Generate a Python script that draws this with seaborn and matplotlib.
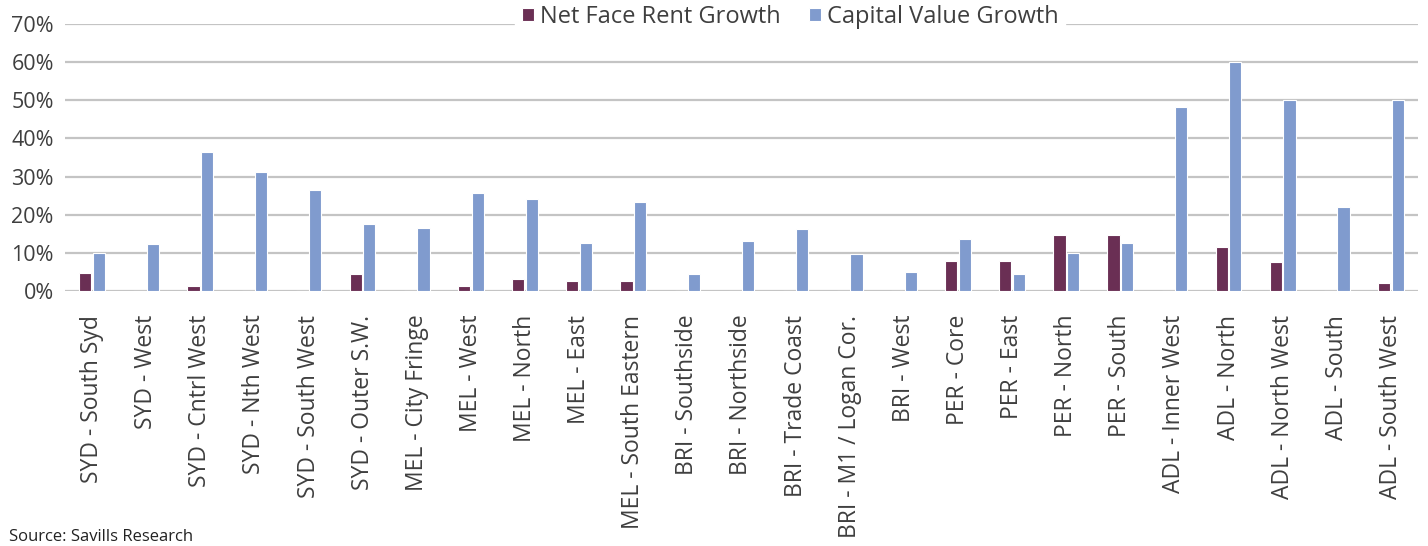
import pandas as pd
import seaborn as sns
import matplotlib.pyplot as plt
from matplotlib.ticker import PercentFormatter

# markets along the x axis
markets = [
    'SYD - South Syd', 'SYD - West', 'SYD - Cntrl West', 'SYD - Nth West',
    'SYD - South West', 'SYD - Outer S.W.', 'MEL - City Fringe', 'MEL - West',
    'MEL - North', 'MEL - East', 'MEL - South Eastern', 'BRI - Southside',
    'BRI - Northside', 'BRI - Trade Coast', 'BRI - M1 / Logan Cor.',
    'BRI - West', 'PER - Core', 'PER - East', 'PER - North', 'PER - South',
    'ADL - Inner West', 'ADL - North', 'ADL - North West', 'ADL - South',
    'ADL - South West',
]

# growth in %
net_face_rent = [4.7, 0.0, 1.4, 0.0, 0.0, 4.5, 0.0, 1.3, 3.1, 2.5, 2.6, 0.0,
                 0.0, 0.0, 0.0, 0.0, 7.8, 7.8, 14.6, 14.6, 0.0, 11.6, 7.5,
                 0.0, 2.2]
capital_value = [9.9, 12.3, 36.5, 31.2, 26.4, 17.7, 16.5, 25.7, 24.0, 12.7,
                 23.4, 4.4, 13.2, 16.2, 9.6, 5.0, 13.7, 4.5, 9.9, 12.6, 48.2,
                 60.0, 50.0, 22.1, 50.0]

series = ['Net Face Rent Growth', 'Capital Value Growth']
colors = ['#6A2F54', '#809BCE']

df = pd.DataFrame({'market': markets,
                   series[0]: net_face_rent,
                   series[1]: capital_value})
long = df.melt(id_vars='market', var_name='series', value_name='growth')

sns.set_style('white')
plt.rcParams['font.family'] = ['Open Sans', 'DejaVu Sans']
text_col = '#3F3F3F'

fig = plt.figure(figsize=(14.28, 5.46), dpi=100)
ax = fig.add_axes([0.0455, 0.467, 0.9475, 0.489])

sns.barplot(data=long, x='market', y='growth', hue='series',
            hue_order=series, palette=colors, width=0.5, gap=0.1,
            edgecolor='white', linewidth=0.8, saturation=1, ax=ax)

ax.set_ylim(0, 70)
ax.set_xlim(-0.5, len(markets) - 0.5)
ax.set_yticks(range(0, 71, 10))
ax.yaxis.set_major_formatter(PercentFormatter(decimals=0))
ax.grid(axis='y', color='#C4C4C4', linewidth=1.6, zorder=0)
ax.set_axisbelow(True)
for s in ax.spines.values():
    s.set_visible(False)

ax.set_xlabel('')
ax.set_ylabel('')
ax.tick_params(axis='y', labelsize=15.5, labelcolor=text_col, length=0, pad=8)
ax.tick_params(axis='x', labelsize=16.5, labelcolor=text_col, length=0,
               labelrotation=90, pad=17)

leg = ax.legend(loc='center', bbox_to_anchor=(0.536, 1.026), ncol=2,
                frameon=True, fontsize=17, handlelength=0.5, handleheight=0.5,
                handletextpad=0.25, columnspacing=1.2, borderpad=0.3,
                borderaxespad=0)
leg.get_frame().set_facecolor('white')
leg.get_frame().set_edgecolor('white')
leg.get_frame().set_alpha(1)
for t in leg.get_texts():
    t.set_color(text_col)

fig.text(0.006, 0.002, 'Source: Savills Research', fontsize=12,
         color='#222222', va='bottom', ha='left')

fig.savefig('out.png', dpi=100)
